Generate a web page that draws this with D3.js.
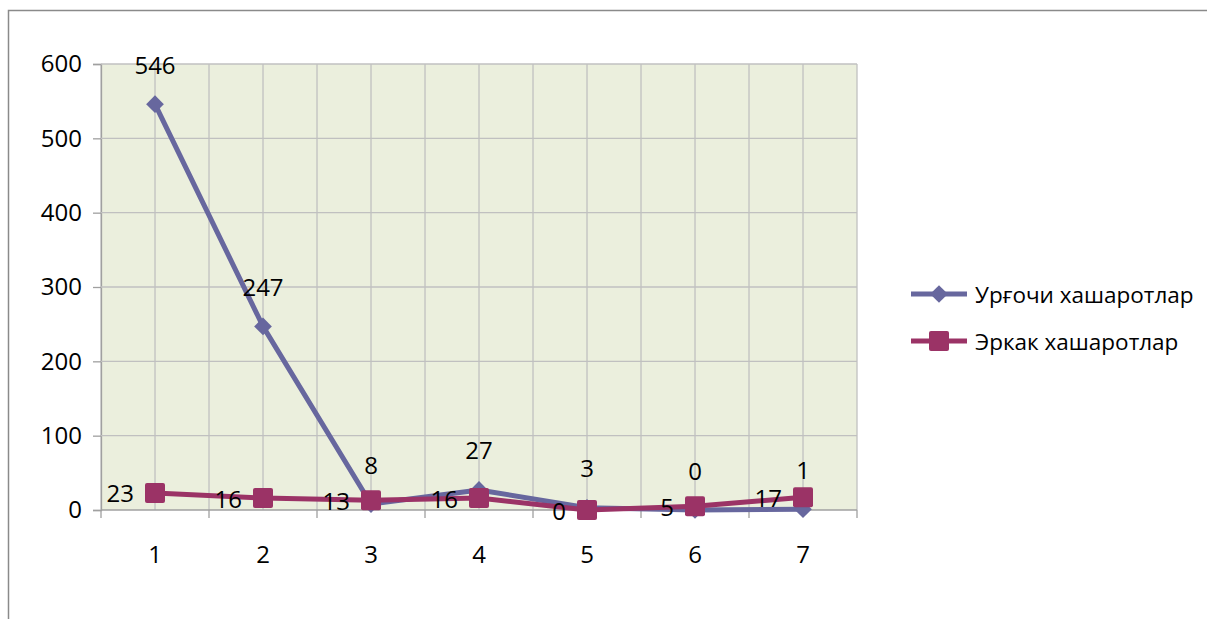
<!DOCTYPE html>
<html>
<head>
<meta charset="utf-8">
<script src="https://cdnjs.cloudflare.com/ajax/libs/d3/7.8.5/d3.min.js"></script>
<style>
  body { margin: 0; background: #ffffff; }
  text { font-family: "Open Sans", "Liberation Sans", Arial, sans-serif; fill: #000; }
</style>
</head>
<body>
<div id="grafico"></div>
<script>
// Datos del gráfico
const categorias = ["1", "2", "3", "4", "5", "6", "7"];
const hembras = [546, 247, 8, 27, 3, 0, 1];
const machos = [23, 16, 13, 16, 0, 5, 17];
const ticksY = [0, 100, 200, 300, 400, 500, 600];
const series = ["Урғочи хашаротлар", "Эркак хашаротлар"];

const ancho = 1207, alto = 619;
const area = { izq: 101, der: 857, arriba: 64, abajo: 510 };
const colorHembra = "#67679e";
const colorMacho = "#9b3366";
const tamFuente = 24;
const tamLeyenda = 22.5;
const fuente = "'Open Sans', 'Liberation Sans', Arial, sans-serif";

const svg = d3.select("#grafico")
  .append("svg")
  .attr("width", ancho)
  .attr("height", alto);

// Marco exterior
svg.append("rect")
  .attr("x", 8.5).attr("y", 10.5)
  .attr("width", ancho + 20).attr("height", alto + 20)
  .attr("fill", "none")
  .attr("stroke", "#8a8a8a")
  .attr("stroke-width", 1.5);

const x = d3.scaleBand()
  .domain(categorias)
  .range([area.izq, area.der])
  .padding(0);

const y = d3.scaleLinear()
  .domain([0, 600])
  .range([area.abajo, area.arriba]);

const centro = c => x(c) + x.bandwidth() / 2;

// Fondo del área de trazado
svg.append("rect")
  .attr("x", area.izq).attr("y", area.arriba)
  .attr("width", area.der - area.izq)
  .attr("height", area.abajo - area.arriba)
  .attr("fill", "#ebefdd");

// Líneas verticales de la cuadrícula (bordes y centros de categoría)
const posVerticales = [];
categorias.forEach(c => {
  posVerticales.push(x(c));
  posVerticales.push(centro(c));
});
posVerticales.push(area.der);

svg.append("g")
  .selectAll("line")
  .data(posVerticales)
  .join("line")
  .attr("x1", d => d).attr("x2", d => d)
  .attr("y1", area.arriba).attr("y2", area.abajo)
  .attr("stroke", "#c0c0c0")
  .attr("stroke-width", 1.3);

// Eje Y con cuadrícula horizontal
const ejeY = svg.append("g")
  .attr("transform", `translate(${area.izq},0)`)
  .call(d3.axisLeft(y).tickValues(ticksY).tickSize(8).tickPadding(11));
ejeY.select(".domain").attr("stroke", "#a0a0a0").attr("stroke-width", 1.3);
ejeY.selectAll(".tick line").attr("stroke", "#a0a0a0").attr("stroke-width", 1.3);
ejeY.selectAll(".tick text")
  .style("font-size", tamFuente + "px")
  .style("font-family", fuente)
  .attr("fill", "#000");

svg.append("g")
  .selectAll("line")
  .data(ticksY)
  .join("line")
  .attr("x1", area.izq).attr("x2", area.der)
  .attr("y1", d => y(d)).attr("y2", d => y(d))
  .attr("stroke", d => d === 0 ? "#a0a0a0" : "#c0c0c0")
  .attr("stroke-width", 1.3);

// Eje X: marcas en los bordes de categoría
svg.append("g")
  .selectAll("line")
  .data(categorias.map(c => x(c)).concat([area.der]))
  .join("line")
  .attr("x1", d => d).attr("x2", d => d)
  .attr("y1", area.abajo).attr("y2", area.abajo + 8)
  .attr("stroke", "#a0a0a0")
  .attr("stroke-width", 1.3);

svg.append("g")
  .selectAll("text")
  .data(categorias)
  .join("text")
  .attr("x", d => centro(d))
  .attr("y", area.abajo + 43)
  .attr("text-anchor", "middle")
  .attr("dominant-baseline", "central")
  .style("font-size", tamFuente + "px")
  .text(d => d);

// Líneas de las series
const linea = d3.line()
  .x((d, i) => centro(categorias[i]))
  .y(d => y(d));

svg.append("path")
  .datum(hembras)
  .attr("d", linea)
  .attr("fill", "none")
  .attr("stroke", colorHembra)
  .attr("stroke-width", 5)
  .attr("stroke-linejoin", "round");

svg.append("path")
  .datum(machos)
  .attr("d", linea)
  .attr("fill", "none")
  .attr("stroke", colorMacho)
  .attr("stroke-width", 5)
  .attr("stroke-linejoin", "round");

// Marcadores
const rombo = d3.symbol().type(d3.symbolDiamond2).size(200);
svg.append("g")
  .selectAll("path")
  .data(hembras)
  .join("path")
  .attr("d", rombo)
  .attr("transform", (d, i) => `translate(${centro(categorias[i])},${y(d)})`)
  .attr("fill", colorHembra);

svg.append("g")
  .selectAll("rect")
  .data(machos)
  .join("rect")
  .attr("x", (d, i) => centro(categorias[i]) - 10)
  .attr("y", d => y(d) - 10)
  .attr("width", 20).attr("height", 20)
  .attr("rx", 2)
  .attr("fill", colorMacho);

// Etiquetas de datos
svg.append("g")
  .selectAll("text")
  .data(hembras)
  .join("text")
  .attr("x", (d, i) => centro(categorias[i]))
  .attr("y", d => y(d) - 40)
  .attr("text-anchor", "middle")
  .attr("dominant-baseline", "central")
  .style("font-size", tamFuente + "px")
  .text(d => d);

svg.append("g")
  .selectAll("text")
  .data(machos)
  .join("text")
  .attr("x", (d, i) => centro(categorias[i]) - 21)
  .attr("y", d => y(d))
  .attr("text-anchor", "end")
  .attr("dominant-baseline", "central")
  .style("font-size", tamFuente + "px")
  .text(d => d);

// Leyenda
const leyenda = svg.append("g");
const colores = [colorHembra, colorMacho];
series.forEach((s, i) => {
  const ly = 294 + i * 47;
  leyenda.append("line")
    .attr("x1", 911).attr("x2", 967)
    .attr("y1", ly).attr("y2", ly)
    .attr("stroke", colores[i])
    .attr("stroke-width", 5);
  if (i === 0) {
    leyenda.append("path")
      .attr("d", rombo)
      .attr("transform", `translate(939,${ly})`)
      .attr("fill", colores[i]);
  } else {
    leyenda.append("rect")
      .attr("x", 939 - 10).attr("y", ly - 10)
      .attr("width", 20).attr("height", 20)
      .attr("rx", 2)
      .attr("fill", colores[i]);
  }
  leyenda.append("text")
    .attr("x", 975)
    .attr("y", ly)
    .attr("dominant-baseline", "central")
    .style("font-size", tamLeyenda + "px")
    .text(s);
});
</script>
</body>
</html>
